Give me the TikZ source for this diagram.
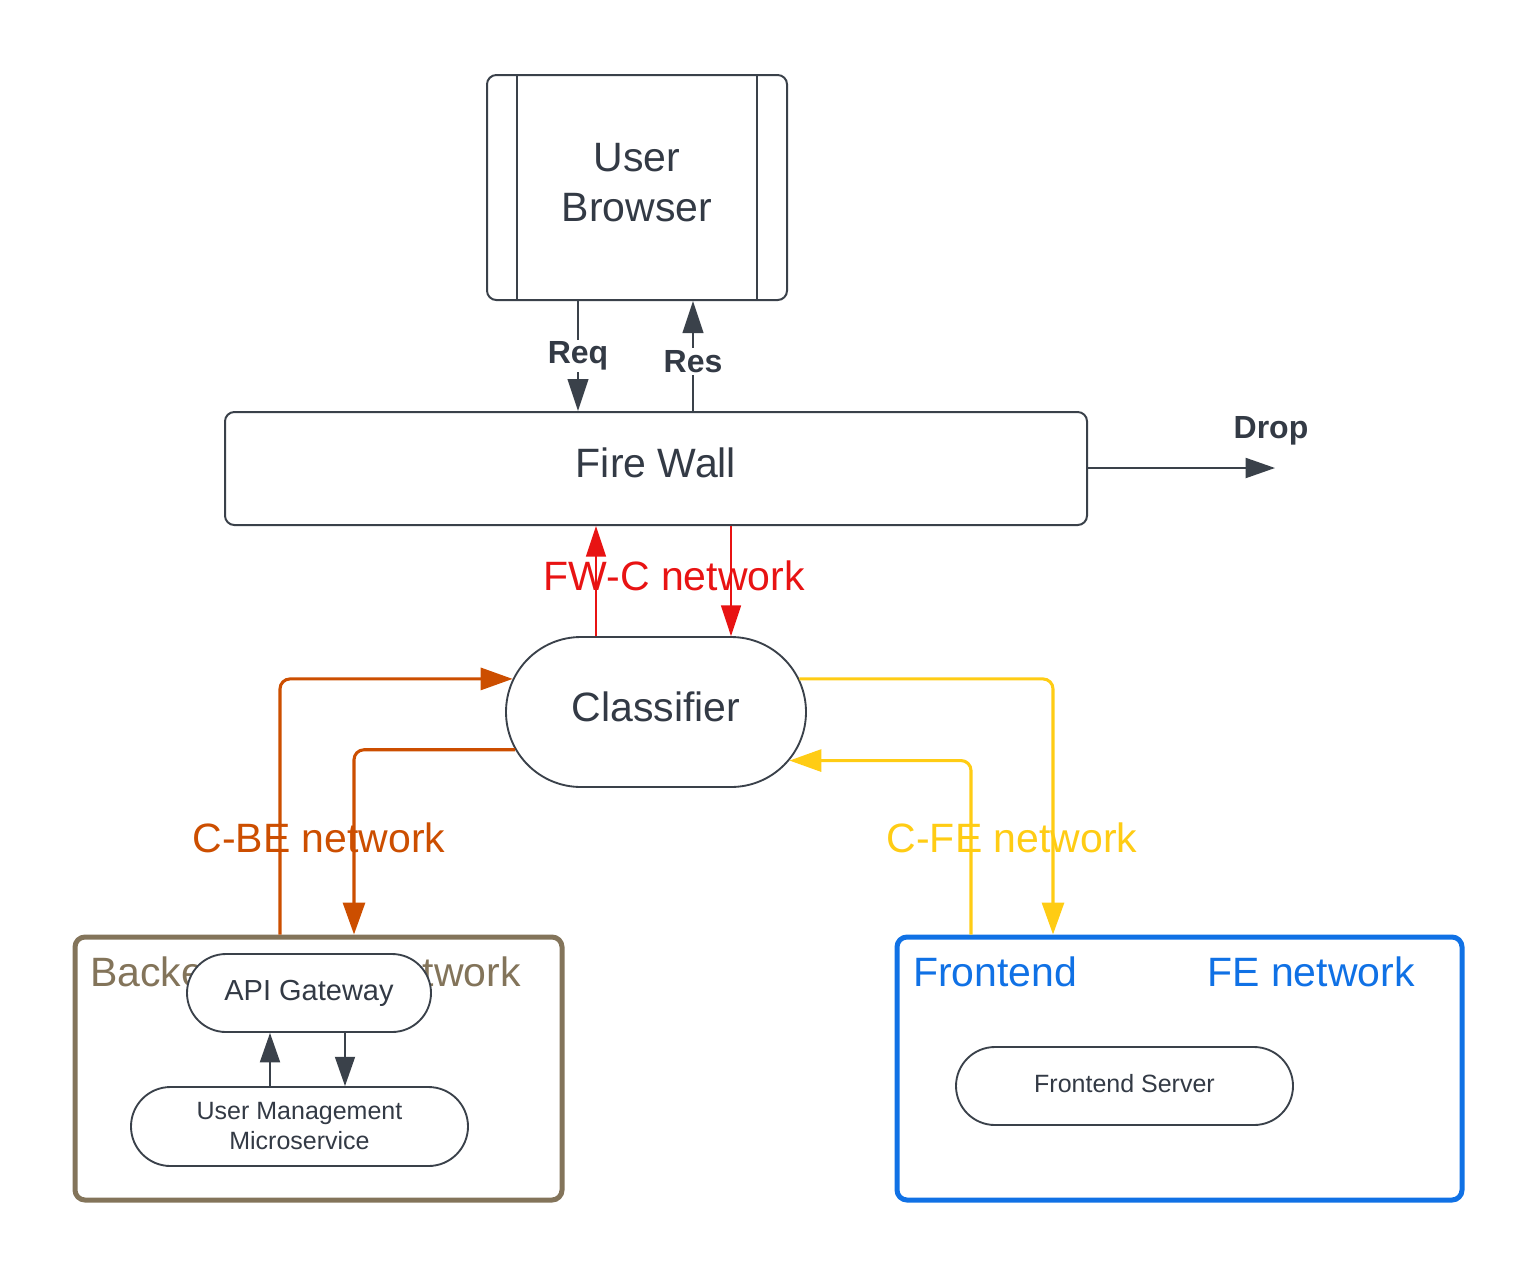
\documentclass[tikz,border=0pt]{standalone}
\usepackage{fontspec}
\setmainfont{Liberation Sans}
\usetikzlibrary{arrows.meta,shapes.misc}
\definecolor{ink}{HTML}{3A414A}
\definecolor{txt}{HTML}{333A45}
\definecolor{fwred}{HTML}{E81313}
\definecolor{beorange}{HTML}{CC4E00}
\definecolor{feyellow}{HTML}{FFCC14}
\definecolor{bebrown}{HTML}{83745A}
\definecolor{feblue}{HTML}{1071E5}
\begin{document}
\begin{tikzpicture}[x=0.75pt,y=-0.75pt,
  big/.style={font=\fontsize{30.75}{37.5}\selectfont},
  box/.style={draw=ink, line width=1.5pt, rounded corners=7pt, fill=white, text=txt, inner sep=0pt, big},
  pill/.style={rounded rectangle, draw=ink, line width=1.4pt, fill=white, text=txt, inner sep=0pt},
  group/.style={draw, line width=3.75pt, rounded corners=7.5pt, inner sep=0pt},
  dkln/.style={draw=ink, line width=1.5pt, -{Triangle[length=24pt,width=15.5pt]}},
  dksm/.style={draw=ink, line width=1.4pt, -{Triangle[length=22pt,width=15pt]}},
  redln/.style={draw=fwred, line width=1.1pt, -{Triangle[length=23pt,width=15pt]}},
  orln/.style={draw=beorange, line width=2.3pt, rounded corners=7.5pt, -{Triangle[length=24pt,width=16.5pt]}},
  yeln/.style={draw=feyellow, line width=2.3pt, rounded corners=7.5pt, -{Triangle[length=24pt,width=16.5pt]}},
  blbl/.style={font=\bfseries\fontsize{24}{28}\selectfont, text=txt, fill=white, inner sep=1.5pt},
  netlbl/.style={big, inner sep=0pt}
]
\useasboundingbox (0,0) rectangle (1538,1275);

% User Browser
\node[box, minimum width=225pt, minimum height=168.75pt, align=center, text depth=7.5pt] (ub) at (637,187.5) {User\\Browser};
\draw[ink, line width=1.5pt] (ub.north -| 517,0) -- (ub.south -| 517,0);
\draw[ink, line width=1.5pt] (ub.north -| 757,0) -- (ub.south -| 757,0);

% Fire Wall
\node[box, minimum width=646.5pt, minimum height=84.75pt, text depth=9pt] (fw) at (656,468.5) {Fire Wall};

% Classifier
\node[pill, big, minimum width=225pt, minimum height=112.5pt, text depth=7.5pt] (cls) at (656,712) {Classifier};

% Backend group
\node[group, draw=bebrown, minimum width=365.25pt, minimum height=197.25pt] (be) at (318.5,1068.5) {};
\node[netlbl, text=bebrown, anchor=west] (belbl) at (90,972) {Backend};
\node[netlbl, text=bebrown, anchor=east] (benet) at (521,972) {BE network};
\node[pill, font=\fontsize{21.75}{26}\selectfont, minimum width=183pt, minimum height=58.5pt] (api) at (309,993) {API Gateway};
\node[pill, font=\fontsize{18.75}{22.5}\selectfont, align=center, minimum width=252.75pt, minimum height=59.25pt] (umm) at (299.5,1126.5) {User Management\\Microservice};

% Frontend group
\node[group, draw=feblue, minimum width=423.75pt, minimum height=197.25pt] (fe) at (1179.5,1068.5) {};
\node[netlbl, text=feblue, anchor=west] (felbl) at (913,972) {Frontend};
\node[netlbl, text=feblue, anchor=east] (fenet) at (1415,972) {FE network};
\node[pill, font=\fontsize{18.75}{22.5}\selectfont, minimum width=252.75pt, minimum height=58.5pt, text depth=4.5pt] (fes) at (1124.5,1086) {Frontend Server};

% Req / Res
\draw[dkln] (ub.south -| 578,0) -- node[blbl, pos=0.5] {Req} (fw.north -| 578,0);
\draw[dkln] (fw.north -| 693,0) -- node[blbl, pos=0.45] {Res} (ub.south -| 693,0);

% Drop
\coordinate (dropend) at (1275,468);
\draw[draw=ink, line width=1.5pt, -{Triangle[length=22pt,width=15pt]}] (fw.east |- dropend) -- (dropend);
\node[blbl, fill=none] (droplbl) at (1271,431) {Drop};

% FW-C network
\draw[redln] (cls.north -| 596,0) -- (fw.south -| 596,0);
\draw[redln] (fw.south -| 731,0) -- (cls.north -| 731,0);
\node[netlbl, text=fwred] (fwclbl) at (674,576) {FW-C network};

% C-BE network
\draw[orln] (be.north -| 280,0) |- (cls.167);
\draw[orln] (cls.195) -| (be.north -| 354,0);
\node[netlbl, text=beorange] (cbelbl) at (319,838) {C-BE network};

% C-FE network
\draw[yeln] (cls.13) -| (fe.north -| 1053,0);
\draw[yeln] (fe.north -| 971,0) |- (cls.340);
\node[netlbl, text=feyellow] (cfelbl) at (1012,838) {C-FE network};

% Backend internal
\draw[dksm] (umm.north -| 270,0) -- (api.south -| 270,0);
\draw[dksm] (api.south -| 345,0) -- (umm.north -| 345,0);
\end{tikzpicture}
\end{document}
